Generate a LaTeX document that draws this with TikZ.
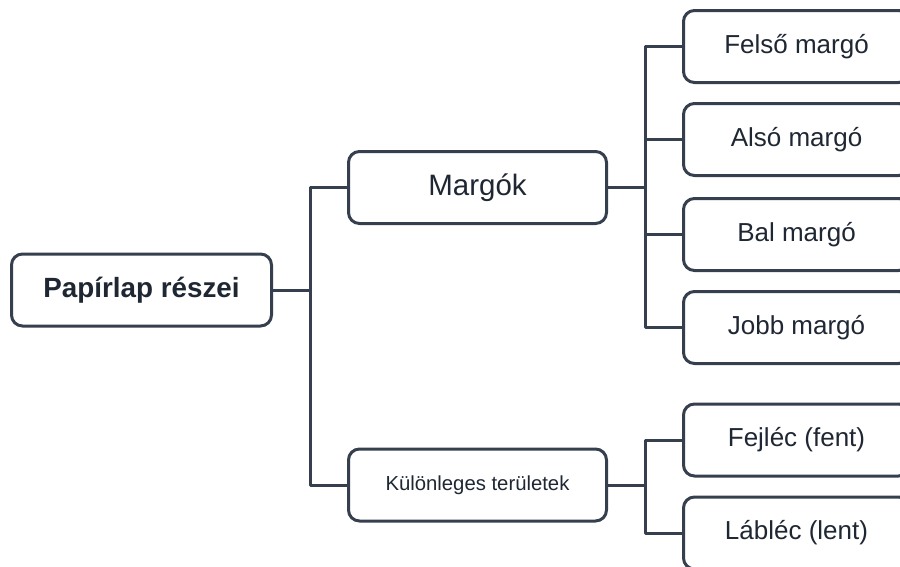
\documentclass[tikz,border=0pt]{standalone}
\usepackage{fontspec}
\setmainfont{Liberation Sans}
\usepackage{tikz}
\usetikzlibrary{positioning,calc}
\definecolor{cLine}{HTML}{363F4D}
\definecolor{cText}{HTML}{1F2733}

\begin{document}
\begin{tikzpicture}[x=1pt, y=-1pt, line join=round,
    box/.style={draw=cLine, line width=3pt, rounded corners=11pt, fill=white,
      text=cText, minimum height=72pt, inner sep=0pt},
    link/.style={draw=cLine, line width=3pt}]
    \clip (0,0) rectangle (900,566);
    % root and the two branches
    \node[box, minimum width=260pt, font=\fontsize{27.8}{32}\selectfont\bfseries] (root) at (141.5,290) {Papírlap részei};
    \node[box, minimum width=258pt, font=\fontsize{29.5}{34}\selectfont] (margok) at (477.5,187.5) {Margók};
    \node[box, minimum width=258pt, font=\fontsize{20.3}{24}\selectfont] (kulon) at (477.5,485) {Különleges területek};
    \draw[link] (root.east) -- ++(37,0) |- (margok.west);
    \draw[link] (root.east) -- ++(37,0) |- (kulon.west);
    % leaves
    \foreach \n/\y/\t in {felso/46.5/Felső margó, also/139.5/Alsó margó, bal/234.5/Bal margó, jobb/327.5/Jobb margó}
      {\node[box, minimum width=226pt, font=\fontsize{26}{31}\selectfont] (\n) at (796.5,\y) {\t};
       \draw[link] (margok.east) -- ++(37,0) |- (\n.west);}
    \foreach \n/\y/\t in {fejlec/440/Fejléc (fent), lablec/533/Lábléc (lent)}
      {\node[box, minimum width=226pt, font=\fontsize{26}{31}\selectfont] (\n) at (796.5,\y) {\t};
       \draw[link] (kulon.east) -- ++(37,0) |- (\n.west);}
\end{tikzpicture}
\end{document}
